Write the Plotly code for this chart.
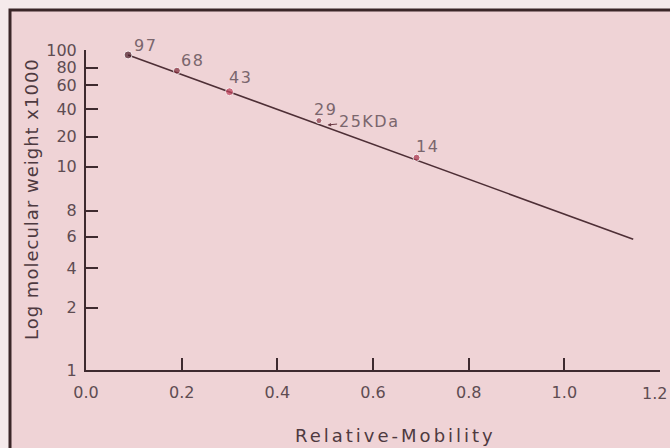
import numpy as np
import plotly.graph_objects as go

# ---------------- data ----------------
marker_labels = ["97", "68", "43", "29", "25KDa", "14"]
mobility = [0.088, 0.19, 0.30, 0.487, 0.503, 0.691]
mol_weight = [94.4, 76.5, 54.4, 31.6, 28.4, 13.0]   # axis reading, x1000

fit_mobility = [0.088, 1.144]
fit_weight = [94.4, 5.84]

y_tick_values = [1, 2, 4, 6, 8, 10, 20, 40, 60, 80, 100]
x_tick_values = [0.0, 0.2, 0.4, 0.6, 0.8, 1.0, 1.2]
x_tick_labels = ["0.0", "0.2", "0.4", "0.6", "0.8", "1.0", "1.2"]

# ---------------- axis scale (the printed y axis is hand-ruled, non-uniform) ----------------
y_scale_stops = [0.0, 0.1947, 0.3178, 0.4166, 0.4978, 0.6353, 0.7291, 0.8156, 0.8906, 0.9447, 1.0]


def yscale(v):
    return np.interp(v, y_tick_values, y_scale_stops)


# ---------------- style ----------------
PINK = "#efd3d6"
OUTSIDE = "#f5eaeb"
AXIS = "#3e2a2f"
TEXT = "#5e4c52"
LABEL = "#7a666d"
TITLE = "#4e3a40"
FONT = "DejaVu Sans"
marker_colors = ["#4a1c28", "#7e2636", "#c0405a", "#8e3646", "#8e3646", "#a8324a"]
marker_sizes = [8, 7, 8, 6, 0, 7]

L, T, W, H = 86, 50, 574, 320   # plot area in pixels


def px2paper_x(px):
    return (px - L) / W


def px2paper_y(py):
    return (T + H - py) / H


fig = go.Figure()

fig.add_trace(go.Scatter(
    x=fit_mobility, y=yscale(fit_weight), mode="lines",
    line=dict(color="#4e2f36", width=1.6), hoverinfo="skip", showlegend=False))

pt_idx = [i for i, s in enumerate(marker_sizes) if s > 0]
fig.add_trace(go.Scatter(
    x=[mobility[i] for i in pt_idx], y=yscale([mol_weight[i] for i in pt_idx]),
    mode="markers",
    marker=dict(color=[marker_colors[i] for i in pt_idx], size=[marker_sizes[i] for i in pt_idx]),
    showlegend=False))

# point labels
label_shift = {"97": (4, -2), "68": (2, -1), "43": (-3, 3), "29": (-7, 0), "14": (-3, 0)}
for lab, xm, yw in zip(marker_labels, mobility, mol_weight):
    txt = '<span style="letter-spacing:1.5px">%s</span>' % lab
    if lab == "25KDa":
        fig.add_annotation(x=xm, y=float(yscale(yw)), text=txt, showarrow=True,
                           ax=42, ay=-4, arrowhead=2, arrowsize=0.7, arrowwidth=1,
                           arrowcolor="#6a3a44", standoff=1,
                           font=dict(family=FONT, size=16, color=LABEL))
    else:
        dx, dy = label_shift[lab]
        fig.add_annotation(x=xm, y=float(yscale(yw)), text=txt, showarrow=False,
                           xanchor="left", yanchor="bottom", xshift=dx, yshift=dy,
                           font=dict(family=FONT, size=16, color=LABEL))

# last x tick label sits at the very edge of the page: keep it inside
shown_x_labels = x_tick_labels[:-1] + [""]
fig.add_annotation(xref="x", yref="paper", x=x_tick_values[-1], y=0, text=x_tick_labels[-1],
                   showarrow=False, xanchor="right", yanchor="top", xshift=9, yshift=-12,
                   font=dict(family=FONT, size=16, color=TEXT))

# axis titles
fig.add_annotation(xref="paper", yref="paper", x=px2paper_x(395), y=px2paper_y(435),
                   text='<span style="letter-spacing:3px">Relative-Mobility</span>',
                   showarrow=False, xanchor="center", yanchor="middle",
                   font=dict(family=FONT, size=18, color=TITLE))
fig.add_annotation(xref="paper", yref="paper", x=px2paper_x(31), y=px2paper_y(199),
                   text='<span style="letter-spacing:1px">Log molecular weight x1000</span>',
                   textangle=-90, showarrow=False, xanchor="center", yanchor="middle",
                   font=dict(family=FONT, size=18, color=TITLE))

# frame: lighter outer band with dark border on top/left (layout decoration)
fig.add_shape(type="rect", xref="paper", yref="paper",
              x0=px2paper_x(10), x1=px2paper_x(700), y0=px2paper_y(480), y1=px2paper_y(10),
              fillcolor=PINK, line=dict(color="#3a2628", width=3), layer="below")

fig.update_layout(
    width=670, height=448,
    margin=dict(l=L, r=670 - L - W, t=T, b=448 - T - H, autoexpand=False),
    paper_bgcolor=OUTSIDE, plot_bgcolor="rgba(0,0,0,0)",
    font=dict(family=FONT, color=TEXT, size=16),
    xaxis=dict(range=[0, 1.2], tickvals=x_tick_values, ticktext=shown_x_labels,
               showgrid=False, zeroline=False, showline=True, linecolor=AXIS, linewidth=2,
               ticks="inside", ticklen=12, tickwidth=1.5, tickcolor=AXIS,
               ticklabelstandoff=7,
               tickfont=dict(size=16, color=TEXT)),
    yaxis=dict(range=[0, 1], tickvals=yscale(y_tick_values), ticktext=[str(v) for v in y_tick_values],
               showgrid=False, zeroline=False, showline=True, linecolor=AXIS, linewidth=2,
               ticks="inside", ticklen=12, tickwidth=1.5, tickcolor=AXIS,
               ticklabelstandoff=4,
               tickfont=dict(size=16, color=TEXT)),
)

fig.write_html("out.html", config={"displayModeBar": False},
               post_script="document.body.style.margin='0';")
